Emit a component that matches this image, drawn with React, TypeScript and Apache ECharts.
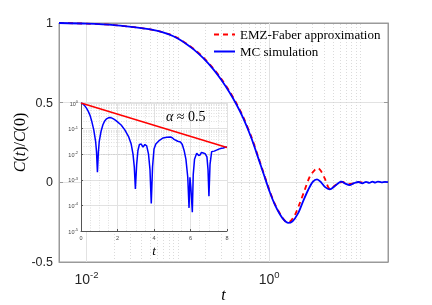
import React, { useEffect, useRef } from 'react';
import * as echarts from 'echarts';

// ---- main plot data ----
const mcT = [0.005, 0.01, 0.02, 0.04, 0.06, 0.08, 0.1, 0.125, 0.15, 0.19, 0.245, 0.3, 0.37, 0.44, 0.52, 0.64, 0.76, 0.87, 1.02, 1.15, 1.31, 1.45, 1.61, 1.8, 2.07, 2.35, 2.67, 3.0, 3.34, 3.7, 4.1, 4.6, 5.2, 5.8, 6.2, 6.8, 7.6, 8.5, 9.5, 10.5, 11.5, 12.5, 13.5, 14.5, 15.5, 17, 18.5, 20];
const mcC = [1, 0.996, 0.987, 0.968, 0.951, 0.929, 0.903, 0.867, 0.833, 0.779, 0.709, 0.642, 0.562, 0.487, 0.403, 0.277, 0.152, 0.052, -0.064, -0.138, -0.2, -0.236, -0.255, -0.245, -0.195, -0.12, -0.048, 0.003, 0.019, 0.0, -0.03, -0.044, -0.025, -0.002, 0.004, -0.008, -0.017, -0.005, 0.002, -0.006, 0.003, -0.004, 0.004, -0.002, 0.005, 0, 0.003, 0.001];

const emzT = [0.005, 0.01, 0.02, 0.04, 0.06, 0.08, 0.1, 0.125, 0.15, 0.19, 0.245, 0.3, 0.37, 0.44, 0.52, 0.64, 0.76, 0.87, 1.02, 1.15, 1.31, 1.45, 1.55, 1.68, 1.91, 2.16, 2.45, 2.78, 3.15, 3.43, 3.73, 4.06, 4.41, 4.68, 5.2, 5.8, 6.4, 7.2, 8.2, 9.5, 11];
const emzC = [1, 0.996, 0.987, 0.968, 0.951, 0.93, 0.905, 0.87, 0.837, 0.784, 0.715, 0.649, 0.569, 0.494, 0.41, 0.284, 0.159, 0.058, -0.059, -0.134, -0.196, -0.234, -0.25, -0.247, -0.205, -0.132, -0.048, 0.035, 0.077, 0.088, 0.067, 0.025, -0.028, -0.044, -0.022, -0.003, 0.002, -0.012, -0.008, 0.001, -0.002];

// ---- inset data: |C(t)| on log scale ----
const insetT = [0, 0.1, 0.2, 0.3, 0.4, 0.5, 0.6, 0.7, 0.8, 0.85, 0.9, 0.95, 1.0, 1.1, 1.2, 1.3, 1.4, 1.5, 1.6, 1.7, 1.8, 1.9, 2.0, 2.2, 2.4, 2.6, 2.75, 2.85, 2.92, 2.98, 3.05, 3.12, 3.2, 3.3, 3.4, 3.5, 3.6, 3.7, 3.78, 3.85, 3.92, 4.0, 4.1, 4.3, 4.5, 4.7, 4.9, 5.0, 5.1, 5.3, 5.45, 5.55, 5.65, 5.75, 5.85, 5.92, 5.97, 6.02, 6.1, 6.15, 6.22, 6.34, 6.45, 6.52, 6.6, 6.7, 6.8, 6.9, 6.96, 7.01, 7.07, 7.16, 7.3, 7.43, 7.55, 7.7, 7.8, 7.9, 8.0];
const insetAbsC = [1, 0.93, 0.79, 0.63, 0.47, 0.32, 0.18, 0.089, 0.032, 0.0126, 0.002, 0.0112, 0.032, 0.079, 0.141, 0.2, 0.24, 0.263, 0.27, 0.257, 0.234, 0.209, 0.182, 0.138, 0.089, 0.05, 0.025, 0.01, 0.0032, 0.00044, 0.004, 0.014, 0.024, 0.025, 0.019, 0.024, 0.021, 0.01, 0.0025, 0.00012, 0.0032, 0.016, 0.025, 0.035, 0.043, 0.046, 0.047, 0.044, 0.038, 0.032, 0.03, 0.024, 0.014, 0.0063, 0.00126, 0.00008, 0.00126, 0.0005, 0.000054, 0.0016, 0.0063, 0.011, 0.0089, 0.0093, 0.0117, 0.0112, 0.0105, 0.0079, 0.0025, 0.00023, 0.004, 0.0126, 0.0132, 0.0145, 0.0158, 0.017, 0.0174, 0.0186, 0.019];
const rateT = [0, 8];
const rateV = [1, 0.0183];

// ---- ticks ----
const mainXLabelTicks = [0.01, 1];
const mainYTicks = [-0.5, 0, 0.5, 1];
const insetXTicks = [0, 2, 4, 6, 8];
const legendNames = ['EMZ-Faber approximation', 'MC simulation'];

const zip = (xs: number[], ys: number[]) => xs.map((x, i) => [x, ys[i]]);

const mainMinorX: number[] = [];
for (const k of [-3, -2, -1, 0, 1]) {
  for (let m = 1; m <= 9; m++) {
    const v = +(m * Math.pow(10, k)).toPrecision(3);
    if (v > 0.005 && v < 20 && !mainXLabelTicks.includes(v)) mainMinorX.push(v);
  }
}
const insetMinorY: number[] = [];
for (const k of [-5, -4, -3, -2, -1]) {
  for (let m = 2; m <= 9; m++) insetMinorY.push(+(m * Math.pow(10, k)).toPrecision(3));
}
const insetMinorX: number[] = [];
for (let v = 0.5; v < 8; v += 0.5) if (v % 2 !== 0) insetMinorX.push(v);

const AX = '#9a9a9a';
const GRIDC = '#e2e2e2';
const MINORC = '#d2d2d2';
const sans = 'Liberation Sans, Arial, sans-serif';
const serif = 'Liberation Serif, Times New Roman, serif';

const supFmt = (v: number) => `{b|10}{s|${Math.round(Math.log10(v))}}`;

const option: any = {
  animation: false,
  grid: [
    { left: 59, top: 23, width: 329, height: 239, show: true, borderColor: AX, borderWidth: 1, backgroundColor: 'transparent', z: 0, containLabel: false, outerBoundsMode: 'none' },
    { left: 81, top: 103, width: 146, height: 128, show: true, borderWidth: 0, backgroundColor: '#ffffff', z: 10, containLabel: false, outerBoundsMode: 'none' },
  ],
  legend: {
    data: legendNames, orient: 'vertical', left: 213, top: 28, padding: 0, itemWidth: 21, itemHeight: 12, itemGap: 4,
    selectedMode: false, itemStyle: { opacity: 0 },
    textStyle: { fontFamily: serif, fontSize: 13, color: '#000' },
  },
  xAxis: [
    {
      type: 'log', gridIndex: 0, min: 0.005, max: 20, logBase: 10, position: 'bottom',
      axisLine: { show: true, onZero: false, lineStyle: { color: AX, width: 1 } },
      axisTick: { show: true, inside: true, length: 4, customValues: mainXLabelTicks, lineStyle: { color: AX } },
      axisLabel: {
        customValues: mainXLabelTicks, margin: 7, color: '#262626',
        formatter: (v: number) => (mainXLabelTicks.some(t => Math.abs(t - v) < 1e-9) ? supFmt(v) : ''),
        rich: {
          b: { fontSize: 14, fontFamily: sans, color: '#262626', verticalAlign: 'bottom' },
          s: { fontSize: 9.5, fontFamily: sans, color: '#262626', verticalAlign: 'bottom', padding: [0, 0, 7, 0] },
        },
      },
      splitLine: { show: false },
      name: 't', nameLocation: 'middle', nameGap: 24, nameMoveOverlap: false,
      nameTextStyle: { fontFamily: serif, fontStyle: 'italic', fontSize: 16, color: '#000' },
    },
    {
      type: 'log', gridIndex: 0, min: 0.005, max: 20, logBase: 10, position: 'top',
      axisLine: { show: true, onZero: false, lineStyle: { color: AX, width: 1 } },
      axisTick: { show: true, inside: true, length: 4, customValues: mainXLabelTicks, lineStyle: { color: AX } },
      axisLabel: { show: false }, splitLine: { show: false },
    },
    {
      type: 'value', gridIndex: 1, min: 0, max: 8, interval: 2, z: 11,
      axisLine: { show: true, onZero: false, lineStyle: { color: '#555', width: 1 } },
      axisTick: { show: true, inside: true, length: 2, lineStyle: { color: '#555' } },
      axisLabel: { margin: 4, fontSize: 5.5, fontFamily: sans, color: '#444', customValues: insetXTicks },
      splitLine: { show: true, lineStyle: { color: GRIDC, width: 1 } },
      name: 't', nameLocation: 'middle', nameGap: 13, nameMoveOverlap: false,
      nameTextStyle: { fontFamily: serif, fontStyle: 'italic', fontSize: 13, color: '#000' },
    },
  ],
  yAxis: [
    {
      type: 'value', gridIndex: 0, min: -0.5, max: 1, interval: 0.5, position: 'left',
      axisLine: { show: true, onZero: false, lineStyle: { color: AX, width: 1 } },
      axisTick: { show: true, inside: true, length: 4, lineStyle: { color: AX } },
      axisLabel: { margin: 6, fontSize: 12.5, fontFamily: sans, color: '#262626', customValues: mainYTicks },
      splitLine: { show: true, lineStyle: { color: GRIDC, width: 1 } },
      name: '{i|C}({i|t})/{i|C}(0)', nameLocation: 'middle', nameGap: 32, nameRotate: 90, nameMoveOverlap: false,
      nameTextStyle: {
        fontFamily: serif, fontSize: 16, color: '#000',
        rich: { i: { fontFamily: serif, fontStyle: 'italic', fontSize: 16, color: '#000' } },
      },
    },
    {
      type: 'value', gridIndex: 0, min: -0.5, max: 1, interval: 0.5, position: 'right',
      axisLine: { show: true, onZero: false, lineStyle: { color: AX, width: 1 } },
      axisTick: { show: true, inside: true, length: 4, lineStyle: { color: AX } },
      axisLabel: { show: false }, splitLine: { show: false },
    },
    {
      type: 'log', gridIndex: 1, min: 0.00001, max: 1, logBase: 10, z: 11,
      axisLine: { show: true, onZero: false, lineStyle: { color: '#555', width: 1 } },
      axisTick: { show: true, inside: true, length: 2, lineStyle: { color: '#555' } },
      axisLabel: {
        margin: 3, formatter: supFmt,
        rich: {
          b: { fontSize: 5.5, fontFamily: sans, color: '#444', verticalAlign: 'bottom' },
          s: { fontSize: 4, fontFamily: sans, color: '#444', verticalAlign: 'bottom', padding: [0, 0, 3, 0] },
        },
      },
      splitLine: { show: true, lineStyle: { color: GRIDC, width: 1 } },
    },
  ],
  series: [
    {
      name: 'EMZ-Faber approximation', type: 'line', xAxisIndex: 0, yAxisIndex: 0, z: 3,
      data: zip(emzT, emzC), showSymbol: false, symbol: 'none', smooth: 0.3,
      lineStyle: { color: '#ff0000', width: 1.8, type: [5, 4] }, itemStyle: { color: '#ff0000' },
      markLine: {
        z: 1, silent: true, symbol: 'none', label: { show: false },
        data: [
          ...mainMinorX.map(v => ({ xAxis: v, lineStyle: { color: MINORC, width: 0.8, type: [1, 2] } })),
          ...mainXLabelTicks.map(v => ({ xAxis: v, lineStyle: { color: GRIDC, width: 1, type: 'solid' } })),
        ],
      },
    },
    {
      name: 'MC simulation', type: 'line', xAxisIndex: 0, yAxisIndex: 0, z: 4,
      data: zip(mcT, mcC), showSymbol: false, symbol: 'none', smooth: 0.3,
      lineStyle: { color: '#0000ff', width: 1.8 }, itemStyle: { color: '#0000ff' },
    },
    {
      name: 'inset |C|', type: 'line', xAxisIndex: 2, yAxisIndex: 2, z: 13,
      data: zip(insetT, insetAbsC), showSymbol: false, symbol: 'none',
      lineStyle: { color: '#0000ff', width: 1.5 },
      markLine: {
        z: 11, silent: true, symbol: 'none', label: { show: false },
        data: [
          ...insetMinorY.map(v => ({ yAxis: v, lineStyle: { color: MINORC, width: 0.7, type: [1, 1.5] } })),
          ...insetMinorX.map(v => ({ xAxis: v, lineStyle: { color: MINORC, width: 0.7, type: [1, 1.5] } })),
        ],
      },
    },
    {
      name: 'rate', type: 'line', xAxisIndex: 2, yAxisIndex: 2, z: 14,
      data: zip(rateT, rateV), showSymbol: false, symbol: 'none',
      lineStyle: { color: '#ff0000', width: 1.5 },
    },
  ],
  graphic: [
    {
      type: 'text', left: 166, top: 109, z: 30,
      style: {
        text: '{i|α} ≈ 0.5', fontFamily: serif, fontSize: 14, fill: '#000',
        rich: { i: { fontFamily: serif, fontStyle: 'italic', fontSize: 14, fill: '#000' } },
      },
    },
  ],
};

export default function App() {
  const ref = useRef<HTMLDivElement>(null);
  useEffect(() => {
    if (!ref.current) return;
    const chart = echarts.init(ref.current, null, { renderer: 'svg' });
    chart.setOption(option);
    return () => chart.dispose();
  }, []);
  return <div ref={ref} style={{ position: 'fixed', left: 0, top: 0, width: 432, height: 305 }} />;
}
